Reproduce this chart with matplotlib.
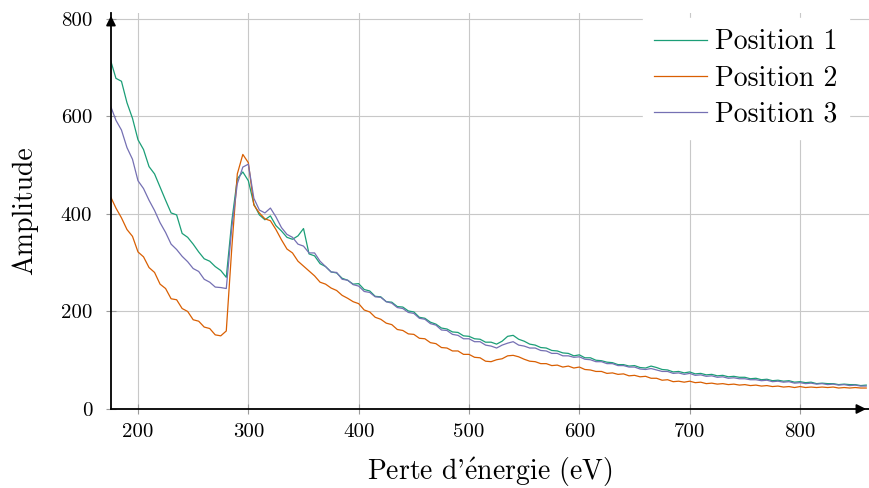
import numpy as np
import matplotlib
matplotlib.use('Agg')
import matplotlib.pyplot as plt

plt.rcParams['font.family'] = ['cmr10', 'DejaVu Serif']
plt.rcParams['mathtext.fontset'] = 'cm'
plt.rcParams['axes.unicode_minus'] = False

# energy loss axis (eV), one reading every 5 eV
energy = np.arange(175, 865, 5)

position_1 = [
    716, 678, 672, 628, 596, 552, 532, 497, 482, 455,
    428, 402, 398, 360, 352, 338, 322, 308, 303, 292,
    284, 270, 385, 472, 486, 468, 420, 398, 388, 396,
    376, 365, 352, 348, 355, 370, 318, 314, 298, 292,
    281, 279, 268, 264, 256, 257, 245, 242, 231, 230,
    220, 219, 210, 209, 201, 199, 188, 186, 178, 174,
    166, 164, 158, 157, 150, 149, 144, 143, 137, 137,
    133, 139, 149, 151, 143, 139, 133, 131, 126, 125,
    120, 119, 115, 114, 109, 111, 105, 105, 100, 99,
    96, 95, 91, 91, 88, 89, 85, 84, 88, 85,
    81, 80, 76, 77, 74, 76, 72, 73, 70, 71,
    68, 69, 66, 67, 65, 65, 62, 63, 60, 61,
    58, 59, 57, 58, 55, 56, 54, 55, 52, 53,
    52, 52, 50, 51, 50, 50, 48, 49,
]

position_2 = [
    436, 412, 392, 368, 354, 322, 312, 290, 280, 256,
    247, 226, 224, 206, 200, 183, 180, 168, 165, 152,
    150, 160, 330, 482, 522, 505, 418, 402, 390, 386,
    368, 347, 328, 320, 303, 293, 283, 273, 260, 256,
    248, 243, 233, 227, 220, 216, 203, 199, 188, 184,
    176, 173, 163, 161, 154, 153, 145, 144, 136, 134,
    126, 125, 119, 119, 112, 112, 106, 105, 98, 97,
    101, 103, 109, 110, 107, 102, 98, 97, 93, 93,
    89, 90, 86, 88, 84, 86, 81, 80, 77, 77,
    73, 74, 71, 72, 68, 69, 66, 67, 63, 63,
    59, 60, 56, 57, 55, 57, 54, 55, 52, 53,
    51, 52, 50, 51, 49, 50, 48, 49, 47, 48,
    46, 47, 45, 46, 44, 46, 44, 45, 44, 45,
    44, 45, 43, 44, 43, 44, 43, 43,
]

position_3 = [
    622, 592, 572, 536, 512, 468, 452, 428, 407, 382,
    362, 338, 327, 313, 302, 288, 282, 266, 260, 250,
    249, 247, 372, 462, 496, 502, 432, 408, 402, 412,
    394, 372, 358, 352, 338, 334, 320, 320, 303, 292,
    281, 280, 266, 264, 255, 252, 241, 239, 230, 229,
    220, 217, 208, 206, 198, 196, 186, 184, 175, 172,
    162, 161, 153, 151, 144, 144, 138, 138, 131, 129,
    125, 131, 135, 138, 131, 129, 125, 125, 120, 119,
    114, 114, 109, 109, 106, 107, 102, 101, 97, 97,
    93, 93, 89, 89, 86, 86, 82, 81, 83, 80,
    77, 77, 73, 74, 71, 73, 69, 70, 67, 68,
    65, 66, 63, 64, 62, 62, 60, 60, 58, 59,
    56, 57, 55, 56, 53, 54, 52, 53, 51, 52,
    50, 51, 49, 50, 48, 49, 47, 47,
]

labels = ['Position 1', 'Position 2', 'Position 3']
colors = ['#1b9e77', '#d95f02', '#7570b3']


def main():
    fig = plt.figure(figsize=(8.69, 4.88), dpi=100)
    ax = fig.add_axes([0.1277, 0.1619, 0.8723, 0.8115])

    for ys, lab, col in zip([position_1, position_2, position_3], labels, colors):
        ax.plot(energy, ys, color=col, lw=0.9, label=lab)

    ax.set_xlim(175.5, 862.5)
    ax.set_ylim(0, 812)
    ax.set_xticks([200, 300, 400, 500, 600, 700, 800])
    ax.set_yticks([0, 200, 400, 600, 800])
    ax.grid(True, color='#c8c8c8', lw=0.8)
    ax.set_axisbelow(True)

    ax.tick_params(direction='inout', length=7, width=0.8, color='#999999',
                   labelsize=15)
    ax.tick_params(axis='x', pad=7)
    ax.tick_params(axis='y', pad=10)

    for s in ['top', 'right']:
        ax.spines[s].set_visible(False)
    for s in ['left', 'bottom']:
        ax.spines[s].set_linewidth(1.3)

    # axis arrows, pgfplots style
    ax.annotate('', xy=(1.0, 0), xytext=(0.98, 0), xycoords='axes fraction',
                arrowprops=dict(arrowstyle='-|>', color='black', lw=1.3,
                                mutation_scale=14), annotation_clip=False)
    ax.annotate('', xy=(0, 1.0), xytext=(0, 0.97), xycoords='axes fraction',
                arrowprops=dict(arrowstyle='-|>', color='black', lw=1.3,
                                mutation_scale=14), annotation_clip=False)

    ax.set_xlabel("Perte d'$\\acute{\\mathrm{e}}$nergie (eV)", fontsize=20, labelpad=10)
    ax.set_ylabel('Amplitude', fontsize=20, labelpad=16)

    ax.legend(loc='upper right', fontsize=20, frameon=True,
              facecolor='white', edgecolor='white', framealpha=1,
              handlelength=1.9, handletextpad=0.3, labelspacing=0.35,
              borderpad=0.4, borderaxespad=0, fancybox=False,
              bbox_to_anchor=(0.977, 0.963), bbox_transform=fig.transFigure)

    fig.savefig('out.png', dpi=100)


if __name__ == '__main__':
    main()
